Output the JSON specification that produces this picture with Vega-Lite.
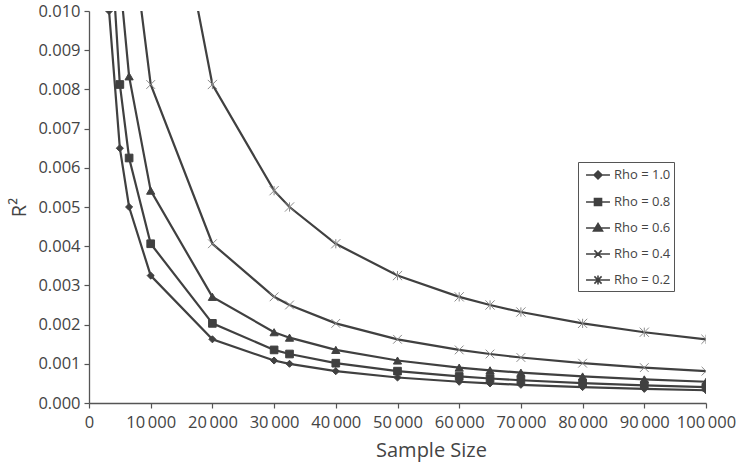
{
  "$schema": "https://vega.github.io/schema/vega-lite/v6.json",
  "width": 617,
  "height": 392,
  "autosize": {"type": "none"},
  "padding": {"left": 89, "top": 11, "right": 32, "bottom": 64},
  "background": "white",
  "config": {
    "view": {"stroke": null},
    "font": "Open Sans",
    "axis": {"labelFont": "Open Sans", "titleFont": "Open Sans", "labelColor": "#444444", "titleColor": "#444444", "grid": false, "labelFontSize": 16.5, "titleFontSize": 20, "titleFontWeight": "normal", "labelOverlap": false}
  },
  "data": {"values": [
    {"n": 3250, "rho": "Rho = 1.0", "r2": 0.01},
    {"n": 5000, "rho": "Rho = 1.0", "r2": 0.0065},
    {"n": 6500, "rho": "Rho = 1.0", "r2": 0.005},
    {"n": 10000, "rho": "Rho = 1.0", "r2": 0.00325},
    {"n": 20000, "rho": "Rho = 1.0", "r2": 0.001625},
    {"n": 30000, "rho": "Rho = 1.0", "r2": 0.0010833},
    {"n": 32500, "rho": "Rho = 1.0", "r2": 0.001},
    {"n": 40000, "rho": "Rho = 1.0", "r2": 0.0008125},
    {"n": 50000, "rho": "Rho = 1.0", "r2": 0.00065},
    {"n": 60000, "rho": "Rho = 1.0", "r2": 0.0005417},
    {"n": 65000, "rho": "Rho = 1.0", "r2": 0.0005},
    {"n": 70000, "rho": "Rho = 1.0", "r2": 0.0004643},
    {"n": 80000, "rho": "Rho = 1.0", "r2": 0.00040625},
    {"n": 90000, "rho": "Rho = 1.0", "r2": 0.0003611},
    {"n": 100000, "rho": "Rho = 1.0", "r2": 0.000325},
    {"n": 3250, "rho": "Rho = 0.8", "r2": 0.0125},
    {"n": 5000, "rho": "Rho = 0.8", "r2": 0.008125},
    {"n": 6500, "rho": "Rho = 0.8", "r2": 0.00625},
    {"n": 10000, "rho": "Rho = 0.8", "r2": 0.0040625},
    {"n": 20000, "rho": "Rho = 0.8", "r2": 0.00203125},
    {"n": 30000, "rho": "Rho = 0.8", "r2": 0.00135417},
    {"n": 32500, "rho": "Rho = 0.8", "r2": 0.00125},
    {"n": 40000, "rho": "Rho = 0.8", "r2": 0.00101563},
    {"n": 50000, "rho": "Rho = 0.8", "r2": 0.0008125},
    {"n": 60000, "rho": "Rho = 0.8", "r2": 0.00067708},
    {"n": 65000, "rho": "Rho = 0.8", "r2": 0.000625},
    {"n": 70000, "rho": "Rho = 0.8", "r2": 0.00058036},
    {"n": 80000, "rho": "Rho = 0.8", "r2": 0.00050781},
    {"n": 90000, "rho": "Rho = 0.8", "r2": 0.00045139},
    {"n": 100000, "rho": "Rho = 0.8", "r2": 0.00040625},
    {"n": 3250, "rho": "Rho = 0.6", "r2": 0.016667},
    {"n": 5000, "rho": "Rho = 0.6", "r2": 0.010833},
    {"n": 6500, "rho": "Rho = 0.6", "r2": 0.0083333},
    {"n": 10000, "rho": "Rho = 0.6", "r2": 0.0054167},
    {"n": 20000, "rho": "Rho = 0.6", "r2": 0.0027083},
    {"n": 30000, "rho": "Rho = 0.6", "r2": 0.0018056},
    {"n": 32500, "rho": "Rho = 0.6", "r2": 0.0016667},
    {"n": 40000, "rho": "Rho = 0.6", "r2": 0.0013542},
    {"n": 50000, "rho": "Rho = 0.6", "r2": 0.0010833},
    {"n": 60000, "rho": "Rho = 0.6", "r2": 0.00090278},
    {"n": 65000, "rho": "Rho = 0.6", "r2": 0.00083333},
    {"n": 70000, "rho": "Rho = 0.6", "r2": 0.00077381},
    {"n": 80000, "rho": "Rho = 0.6", "r2": 0.00067708},
    {"n": 90000, "rho": "Rho = 0.6", "r2": 0.00060185},
    {"n": 100000, "rho": "Rho = 0.6", "r2": 0.00054167},
    {"n": 3250, "rho": "Rho = 0.4", "r2": 0.025},
    {"n": 5000, "rho": "Rho = 0.4", "r2": 0.01625},
    {"n": 6500, "rho": "Rho = 0.4", "r2": 0.0125},
    {"n": 10000, "rho": "Rho = 0.4", "r2": 0.008125},
    {"n": 20000, "rho": "Rho = 0.4", "r2": 0.0040625},
    {"n": 30000, "rho": "Rho = 0.4", "r2": 0.0027083},
    {"n": 32500, "rho": "Rho = 0.4", "r2": 0.0025},
    {"n": 40000, "rho": "Rho = 0.4", "r2": 0.0020313},
    {"n": 50000, "rho": "Rho = 0.4", "r2": 0.001625},
    {"n": 60000, "rho": "Rho = 0.4", "r2": 0.0013542},
    {"n": 65000, "rho": "Rho = 0.4", "r2": 0.00125},
    {"n": 70000, "rho": "Rho = 0.4", "r2": 0.0011607},
    {"n": 80000, "rho": "Rho = 0.4", "r2": 0.0010156},
    {"n": 90000, "rho": "Rho = 0.4", "r2": 0.00090278},
    {"n": 100000, "rho": "Rho = 0.4", "r2": 0.0008125},
    {"n": 3250, "rho": "Rho = 0.2", "r2": 0.05},
    {"n": 5000, "rho": "Rho = 0.2", "r2": 0.0325},
    {"n": 6500, "rho": "Rho = 0.2", "r2": 0.025},
    {"n": 10000, "rho": "Rho = 0.2", "r2": 0.01625},
    {"n": 20000, "rho": "Rho = 0.2", "r2": 0.008125},
    {"n": 30000, "rho": "Rho = 0.2", "r2": 0.0054167},
    {"n": 32500, "rho": "Rho = 0.2", "r2": 0.005},
    {"n": 40000, "rho": "Rho = 0.2", "r2": 0.0040625},
    {"n": 50000, "rho": "Rho = 0.2", "r2": 0.00325},
    {"n": 60000, "rho": "Rho = 0.2", "r2": 0.0027083},
    {"n": 65000, "rho": "Rho = 0.2", "r2": 0.0025},
    {"n": 70000, "rho": "Rho = 0.2", "r2": 0.0023214},
    {"n": 80000, "rho": "Rho = 0.2", "r2": 0.0020313},
    {"n": 90000, "rho": "Rho = 0.2", "r2": 0.0018056},
    {"n": 100000, "rho": "Rho = 0.2", "r2": 0.001625}
  ]},
  "encoding": {
    "x": {"field": "n", "type": "quantitative", "scale": {"domain": [0, 100000], "nice": false},
      "axis": {"title": "Sample Size", "domain": true, "domainColor": "#555555", "domainWidth": 1.3, "ticks": true, "tickColor": "#555555", "tickWidth": 1.2, "tickSize": 5, "values": [0, 10000, 20000, 30000, 40000, 50000, 60000, 70000, 80000, 90000, 100000], "labelExpr": "replace(format(datum.value, ','), ',', '\u2009')", "labelPadding": 6, "titlePadding": 10, "titleX": 342, "titleAlign": "center", "labelFlush": false}},
    "y": {"field": "r2", "type": "quantitative", "scale": {"domain": [0, 0.01], "nice": false},
      "axis": {"title": "R²", "domain": true, "domainColor": "#555555", "domainWidth": 1.3, "ticks": true, "tickColor": "#555555", "tickWidth": 1.2, "tickSize": 5, "format": ".3f", "values": [0, 0.001, 0.002, 0.003, 0.004, 0.005, 0.006, 0.007, 0.008, 0.009, 0.01], "labelPadding": 4, "titlePadding": 8, "labelFlush": false}}
  },
  "layer": [
    {"mark": {"type": "line", "clip": true, "color": "#404040", "strokeWidth": 2.2},
      "encoding": {"detail": {"field": "rho"}}},
    {"mark": {"type": "point", "clip": true, "filled": true, "opacity": 1, "strokeWidth": 1},
      "encoding": {
        "shape": {"field": "rho", "type": "nominal", "legend": null,
          "scale": {"domain": ["Rho = 1.0", "Rho = 0.8", "Rho = 0.6", "Rho = 0.4", "Rho = 0.2"],
            "range": ["diamond", "square", "triangle-up", "M-1,-1L1,1M1,-1L-1,1", "M-1,-1L1,1M1,-1L-1,1M0,-1L0,1"]}},
        "size": {"field": "rho", "type": "nominal", "legend": null,
          "scale": {"domain": ["Rho = 1.0", "Rho = 0.8", "Rho = 0.6", "Rho = 0.4", "Rho = 0.2"], "range": [50, 85, 70, 100, 100]}},
        "color": {"field": "rho", "type": "nominal", "legend": null,
          "scale": {"domain": ["Rho = 1.0", "Rho = 0.8", "Rho = 0.6", "Rho = 0.4", "Rho = 0.2"], "range": ["#404040", "#404040", "#404040", "#8a8a8a", "#8a8a8a"]}},
        "stroke": {"field": "rho", "type": "nominal", "legend": null,
          "scale": {"domain": ["Rho = 1.0", "Rho = 0.8", "Rho = 0.6", "Rho = 0.4", "Rho = 0.2"], "range": ["#404040", "#404040", "#404040", "#8a8a8a", "#8a8a8a"]}}
      }},
    {"mark": {"type": "point", "clip": true, "filled": true, "opacity": 0, "strokeWidth": 1.5, "size": 324},
      "encoding": {
        "shape": {"field": "rho", "type": "nominal",
          "scale": {"domain": ["Rho = 1.0", "Rho = 0.8", "Rho = 0.6", "Rho = 0.4", "Rho = 0.2"],
            "range": ["M-1.33,0L1.33,0M0,-0.44L0.44,0L0,0.44L-0.44,0Z", "M-1.33,0L1.33,0M-0.39,-0.39L0.39,-0.39L0.39,0.39L-0.39,0.39Z", "M-1.33,0L1.33,0M0,-0.5L0.5,0.33L-0.5,0.33Z", "M-1.33,0L1.33,0M-0.4,-0.4L0.4,0.4M0.4,-0.4L-0.4,0.4", "M-1.33,0L1.33,0M-0.4,-0.4L0.4,0.4M0.4,-0.4L-0.4,0.4M0,-0.5L0,0.5"]},
          "legend": {"orient": "none", "legendX": 489, "legendY": 151, "title": null, "strokeColor": "#555555", "padding": 3, "labelFont": "Open Sans", "labelFontSize": 13, "labelColor": "#444444", "rowPadding": 9, "symbolSize": 324, "symbolOffset": 7, "labelOffset": 6, "symbolOpacity": 1, "symbolStrokeWidth": 1.6}},
        "stroke": {"field": "rho", "type": "nominal",
          "scale": {"domain": ["Rho = 1.0", "Rho = 0.8", "Rho = 0.6", "Rho = 0.4", "Rho = 0.2"], "range": ["#404040", "#404040", "#404040", "#404040", "#404040"]},
          "legend": {"orient": "none", "legendX": 489, "legendY": 151, "title": null, "strokeColor": "#555555", "padding": 3, "labelFont": "Open Sans", "labelFontSize": 13, "labelColor": "#444444", "rowPadding": 9, "symbolSize": 324, "symbolOffset": 7, "labelOffset": 6, "symbolOpacity": 1, "symbolStrokeWidth": 1.6}},
        "fill": {"field": "rho", "type": "nominal",
          "scale": {"domain": ["Rho = 1.0", "Rho = 0.8", "Rho = 0.6", "Rho = 0.4", "Rho = 0.2"], "range": ["#404040", "#404040", "#404040", "#404040", "#404040"]},
          "legend": {"orient": "none", "legendX": 489, "legendY": 151, "title": null, "strokeColor": "#555555", "padding": 3, "labelFont": "Open Sans", "labelFontSize": 13, "labelColor": "#444444", "rowPadding": 9, "symbolSize": 324, "symbolOffset": 7, "labelOffset": 6, "symbolOpacity": 1, "symbolStrokeWidth": 1.6}}
      }}
  ],
  "resolve": {"scale": {"shape": "independent", "stroke": "independent", "fill": "independent"}, "legend": {"shape": "independent", "stroke": "independent", "fill": "independent"}}
}
